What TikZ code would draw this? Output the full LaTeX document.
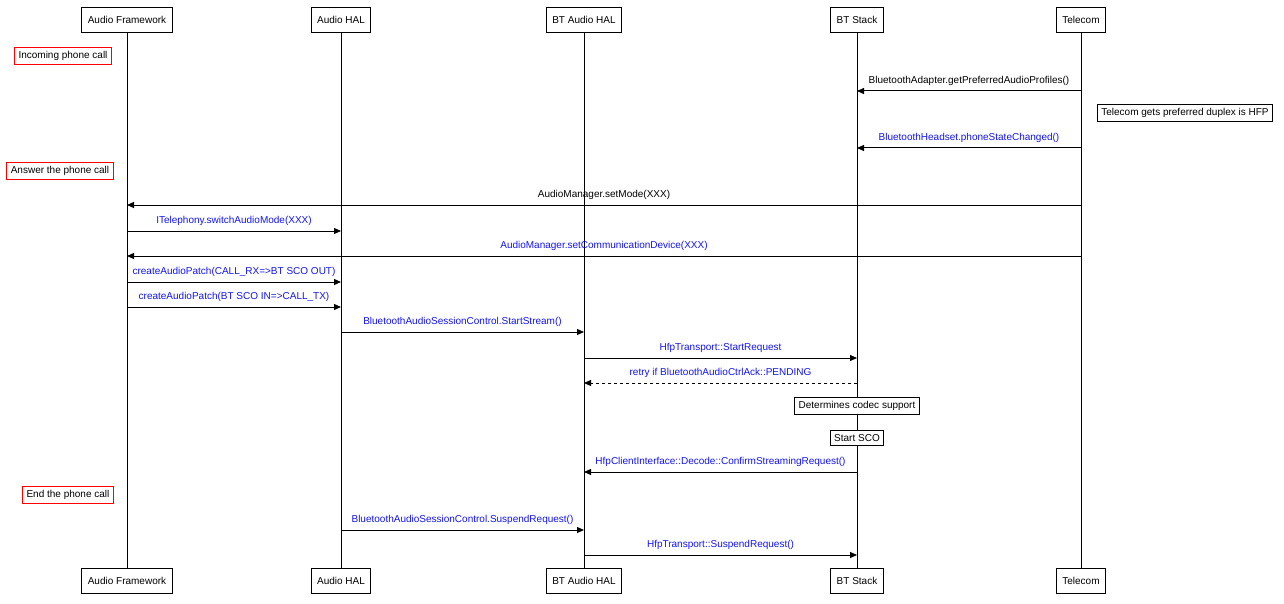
\documentclass[tikz,border=0pt]{standalone}
\usepackage{fontspec}
\setmainfont{Liberation Sans}
\usetikzlibrary{arrows.meta}
\definecolor{msgblue}{RGB}{20,20,240}
\tikzset{
  actor/.style={draw, line width=1pt, fill=white, minimum height=25pt, inner sep=6pt, font=\fontsize{10}{12}\selectfont},
  note/.style={draw, line width=1pt, fill=white, inner sep=4pt, font=\fontsize{10}{12}\selectfont},
  phase/.style={draw=red, line width=1pt, fill=white, inner sep=4pt, font=\fontsize{10}{12}\selectfont},
  msg/.style={line width=1pt, -{Triangle[length=7pt,width=6pt]}},
  lbl/.style={above=2pt, font=\fontsize{10}{12}\selectfont}
}
\begin{document}
\begin{tikzpicture}[x=1pt, y=-1pt]
    \useasboundingbox (0,0) rectangle (1284,604);

    % Lifelines
    \foreach \n/\x/\t in {af/127/Audio Framework, hal/341/Audio HAL, bthal/584/BT Audio HAL, bts/857/BT Stack, tel/1081/Telecom} {
        \coordinate (\n) at (\x,0);
        \draw[line width=1pt] (\x,20) -- (\x,581);
        \node[actor] (\n top) at (\x,20) {\t};
        \node[actor] (\n bot) at (\x,581) {\t};
    }

    % Phase markers
    \node[phase] (incoming) at (63,56) {Incoming phone call};
    \node[phase] (answer) at (60,171) {Answer the phone call};
    \node[phase] (end) at (68,495) {End the phone call};

    % Messages
    \foreach \s/\d/\y/\c/\t in {
        tel/bts/91/black/BluetoothAdapter.getPreferredAudioProfiles(),
        tel/bts/148/msgblue/BluetoothHeadset.phoneStateChanged(),
        tel/af/205/black/AudioManager.setMode(XXX),
        af/hal/231/msgblue/ITelephony.switchAudioMode(XXX),
        tel/af/256/msgblue/AudioManager.setCommunicationDevice(XXX),
        af/hal/282/msgblue/createAudioPatch(CALL\_RX=>BT SCO OUT),
        af/hal/307/msgblue/createAudioPatch(BT SCO IN=>CALL\_TX),
        hal/bthal/332/msgblue/BluetoothAudioSessionControl.StartStream(),
        bthal/bts/358/msgblue/HfpTransport::StartRequest,
        bts/bthal/472/msgblue/HfpClientInterface::Decode::ConfirmStreamingRequest(),
        hal/bthal/530/msgblue/BluetoothAudioSessionControl.SuspendRequest(),
        bthal/bts/555/msgblue/HfpTransport::SuspendRequest()} {
        \draw[msg] (\s |- 0,\y) -- node[lbl, text=\c] {\t} (\d |- 0,\y);
    }
    \draw[msg, dashed] (bts |- 0,383) -- node[lbl, text=msgblue] {retry if BluetoothAudioCtrlAck::PENDING} (bthal |- 0,383);

    % Notes
    \node[note] (duplex) at (1185,113) {Telecom gets preferred duplex is HFP};
    \node[note] (codec) at (857,406) {Determines codec support};
    \node[note] (sco) at (857,438) {Start SCO};
\end{tikzpicture}
\end{document}
